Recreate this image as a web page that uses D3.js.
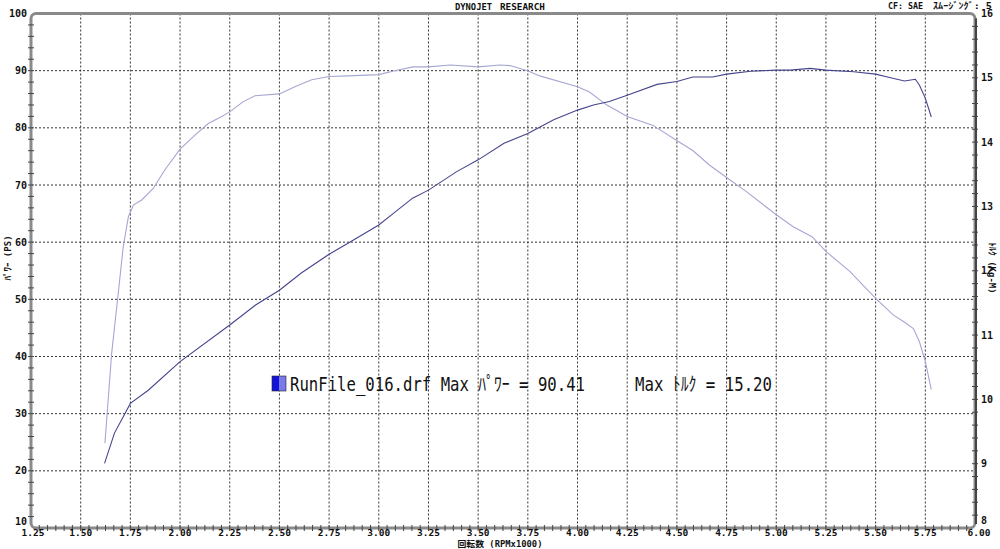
<!DOCTYPE html>
<html><head><meta charset="utf-8">
<script src="https://cdn.jsdelivr.net/npm/d3@7"></script>
<style>html,body{margin:0;padding:0;background:#fff;}svg{display:block;}</style>
</head><body>
<svg id="c" width="1000" height="549"></svg>
<script>
// ---- data ----
const rpmTicks = [1.25,1.50,1.75,2.00,2.25,2.50,2.75,3.00,3.25,3.50,3.75,4.00,4.25,4.50,4.75,5.00,5.25,5.50,5.75,6.00];
const powerTicks = [10,20,30,40,50,60,70,80,90,100];
const torqueTicks = [8,9,10,11,12,13,14,15,16];

const rpmPower = [1.62,1.67,1.75,1.84,2.00,2.25,2.38,2.50,2.61,2.75,2.86,3.00,3.08,3.17,3.25,3.39,3.50,3.63,3.75,3.88,4.00,4.08,4.16,4.25,4.40,4.50,4.58,4.68,4.75,4.87,5.00,5.07,5.17,5.25,5.39,5.50,5.57,5.645,5.70,5.72,5.75,5.78];
const powerPS = [21.3,26.6,31.8,34.1,39.1,45.5,49.0,51.6,54.6,57.9,60.1,63.0,65.2,67.7,69.1,72.3,74.4,77.3,79.0,81.4,83.1,84.0,84.6,85.7,87.6,88.1,88.9,88.9,89.4,89.9,90.1,90.1,90.4,90.1,89.8,89.4,88.8,88.2,88.5,87.5,85.2,81.9];

const rpmTorque = [1.622,1.656,1.689,1.714,1.74,1.765,1.807,1.865,1.924,2.0,2.075,2.142,2.21,2.25,2.318,2.377,2.5,2.578,2.662,2.75,2.846,3.0,3.08,3.173,3.25,3.36,3.5,3.61,3.66,3.748,3.81,4.0,4.06,4.146,4.25,4.38,4.497,4.58,4.665,4.75,4.85,5.0,5.087,5.18,5.25,5.37,5.5,5.59,5.64,5.69,5.72,5.75,5.78];
const torqueKgm = [9.32,10.72,11.65,12.37,12.84,13.02,13.10,13.28,13.57,13.89,14.11,14.29,14.40,14.47,14.63,14.72,14.75,14.86,14.97,15.02,15.03,15.05,15.11,15.17,15.17,15.20,15.17,15.20,15.19,15.11,15.03,14.86,14.78,14.58,14.40,14.26,14.03,13.87,13.64,13.45,13.23,12.87,12.68,12.53,12.30,11.99,11.57,11.31,11.21,11.10,10.90,10.59,10.15];

const legendRun = "RunFile_016.drf Max ﾊﾟﾜｰ = 90.41";
const legendTorque = "Max ﾄﾙｸ = 15.20";

// ---- drawing ----
const svg = d3.select("#c");
const L=31, R=975, T=13.5, B=528;
const x = d3.scaleLinear().domain([1.25,6]).range([L,R]);
const yP = d3.scaleLinear().domain([10,100]).range([B,T]);
const yT = d3.scaleLinear().domain([8,16]).range([B,T]);
const tickFont = "'DejaVu Sans Mono', monospace";

// grid
const g = svg.append("g");
g.selectAll("line.vg").data(rpmTicks.slice(1,-1)).enter().append("line")
  .attr("x1",d=>x(d)).attr("x2",d=>x(d)).attr("y1",T).attr("y2",B)
  .attr("stroke","#333").attr("stroke-width",1).attr("stroke-dasharray","2,2");
g.selectAll("line.hg").data(powerTicks.slice(1,-1)).enter().append("line")
  .attr("x1",L).attr("x2",R).attr("y1",d=>yP(d)).attr("y2",d=>yP(d))
  .attr("stroke","#333").attr("stroke-width",1).attr("stroke-dasharray","2,2");

// frame
svg.append("rect").attr("x",L).attr("y",T).attr("width",R-L).attr("height",B-T)
  .attr("rx",5).attr("fill","none").attr("stroke","#8a8a8a").attr("stroke-width",3);
svg.append("line").attr("x1",R+1).attr("x2",R+1).attr("y1",T+5).attr("y2",B-4)
  .attr("stroke","#444").attr("stroke-width",2);

// minor ticks
const ticksG = svg.append("g").attr("stroke","#444").attr("stroke-width",1);
ticksG.selectAll("line.lt").data(d3.range(12,100,2)).enter().append("line")
  .attr("x1",L-3).attr("x2",L+3).attr("y1",d=>yP(d)).attr("y2",d=>yP(d));
ticksG.selectAll("line.rt").data(d3.range(8.2,15.9,0.2)).enter().append("line")
  .attr("x1",R-3).attr("x2",R+3).attr("y1",d=>yT(d)).attr("y2",d=>yT(d));
ticksG.selectAll("line.bt").data(d3.range(1,114).map(i=>1.25+i*0.25/6)).enter().append("line")
  .attr("x1",d=>x(d)).attr("x2",d=>x(d)).attr("y1",B-3).attr("y2",B+3);

// tick labels
const lab = svg.append("g").attr("font-family",tickFont).attr("font-weight","bold").attr("font-size","10px").attr("fill","#111");
lab.selectAll("text.yl").data(powerTicks).enter().append("text")
  .attr("x",27).attr("y",d=>d===10?524.5:yP(d)).attr("dy",d=>d===10?"0":"0.35em").attr("text-anchor","end").text(d=>d);
lab.selectAll("text.yr").data(torqueTicks).enter().append("text")
  .attr("x",981).attr("y",d=>d===8?524:yT(d)).attr("dy",d=>d===8?"0":"0.35em").attr("text-anchor","start").text(d=>d);
lab.selectAll("text.xl").data(rpmTicks).enter().append("text")
  .attr("x",d=>x(d)+ (d===6?4:(d===1.25?2:0))).attr("y",536).attr("font-size","9.5px").attr("text-anchor","middle").text(d=>d.toFixed(2));

// header
const hd = svg.append("g").attr("font-family","'DejaVu Sans Mono','Noto Sans CJK JP',monospace").attr("font-weight","bold").attr("font-size","9px").attr("fill","#111");
hd.append("text").attr("x",455).attr("y",10).attr("textLength",37).attr("lengthAdjust","spacingAndGlyphs").text("DYNOJET");
hd.append("text").attr("x",500).attr("y",10).attr("textLength",45).attr("lengthAdjust","spacingAndGlyphs").text("RESEARCH");
hd.append("text").attr("x",888).attr("y",9).attr("textLength",35).attr("lengthAdjust","spacingAndGlyphs").text("CF: SAE");
hd.append("text").attr("x",933).attr("y",9).attr("textLength",59).attr("lengthAdjust","spacingAndGlyphs").text("ｽﾑｰｼﾞﾝｸﾞ: 5");

// axis titles
hd.append("text").attr("transform","translate(11,258) rotate(-90)").attr("text-anchor","middle").text("ﾊﾟﾜｰ (PS)");
hd.append("text").attr("transform","translate(989,268) rotate(90)").attr("text-anchor","middle").text("ﾄﾙｸ (Kg-M)");
hd.append("text").attr("x",500).attr("y",546.5).attr("text-anchor","middle").attr("font-size","8.5px").attr("textLength",85).attr("lengthAdjust","spacingAndGlyphs").text("回転数 (RPMx1000)");

// curves
const linePower = d3.line().x((d,i)=>x(rpmPower[i])).y(d=>yP(d));
const lineTorque = d3.line().x((d,i)=>x(rpmTorque[i])).y(d=>yT(d));
svg.append("path").attr("d",lineTorque(torqueKgm)).attr("fill","none").attr("stroke","#a6a6d4").attr("stroke-width",1.1);
svg.append("path").attr("d",linePower(powerPS)).attr("fill","none").attr("stroke","#45458e").attr("stroke-width",1.1);

// legend
svg.append("rect").attr("x",272).attr("y",376).attr("width",7).attr("height",15).attr("fill","#1414d8");
svg.append("rect").attr("x",279).attr("y",376).attr("width",7).attr("height",15).attr("fill","#7a7ae8");
svg.append("rect").attr("x",272).attr("y",376).attr("width",14).attr("height",15).attr("fill","none").attr("stroke","#222").attr("stroke-width",0.6);
const lg = svg.append("g").attr("font-family","'DejaVu Sans Mono','Noto Sans CJK JP',monospace").attr("font-size","19px").attr("fill","#111");
lg.append("text").attr("x",290).attr("y",391).attr("textLength",295).attr("lengthAdjust","spacingAndGlyphs").text(legendRun);
lg.append("text").attr("x",635).attr("y",391).attr("textLength",137).attr("lengthAdjust","spacingAndGlyphs").text(legendTorque);
</script>
</body></html>
